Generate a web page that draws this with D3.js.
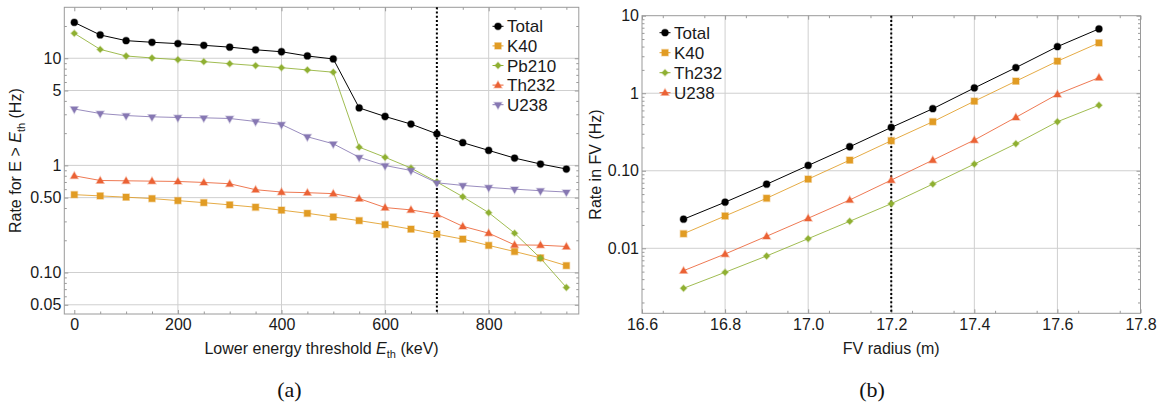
<!DOCTYPE html>
<html><head><meta charset="utf-8">
<script src="https://cdn.jsdelivr.net/npm/d3@7"></script>
<style>
body{margin:0;background:#fff;}
svg{display:block;}
text{font-family:"Liberation Sans",Arial,sans-serif;}
</style></head>
<body>
<svg id="chart" width="1164" height="407"></svg>
<script>
// ---------- Data: panel (a) ----------
const energyThresholds = [0,50,100,150,200,250,300,350,400,450,500,550,600,650,700,750,800,850,900,950];
const totalE = [21.6,16.5,14.6,14.1,13.7,13.2,12.7,12.0,11.5,10.5,9.85,3.44,2.86,2.43,1.97,1.63,1.38,1.17,1.03,0.925];
const k40E   = [0.533,0.519,0.505,0.490,0.469,0.449,0.428,0.407,0.382,0.357,0.330,0.305,0.280,0.254,0.228,0.205,0.179,0.157,0.137,0.116];
const pb210E = [17.1,12.1,10.5,10.06,9.7,9.3,8.9,8.54,8.17,7.78,7.41,1.48,1.19,0.944,0.70,0.51,0.362,0.233,0.136,0.0725];
const th232E = [0.80,0.723,0.718,0.713,0.708,0.693,0.674,0.593,0.564,0.556,0.545,0.490,0.404,0.384,0.350,0.270,0.233,0.181,0.180,0.175];
const u238E  = [3.36,3.05,2.92,2.84,2.80,2.78,2.74,2.57,2.41,1.85,1.59,1.19,0.997,0.896,0.688,0.650,0.623,0.600,0.580,0.564];
const xTicksA = [0,200,400,600,800];
const yTicksA = [0.05,0.1,0.5,1,5,10];
const yTickLabelsA = ["0.05","0.10","0.50","1","5","10"];
const cutA = 700;

// ---------- Data: panel (b) ----------
const fvRadius = [16.7,16.8,16.9,17.0,17.1,17.2,17.3,17.4,17.5,17.6,17.7];
const totalR = [0.0237,0.0393,0.067,0.117,0.204,0.362,0.631,1.17,2.14,3.99,6.76];
const k40R   = [0.0154,0.0261,0.0442,0.078,0.137,0.244,0.429,0.789,1.43,2.59,4.46];
const th232R = [0.00305,0.0049,0.00796,0.0133,0.0223,0.0376,0.0673,0.122,0.223,0.429,0.70];
const u238R  = [0.00514,0.00844,0.0143,0.0244,0.042,0.0758,0.137,0.249,0.489,0.97,1.59];
const xTicksB = [16.6,16.8,17.0,17.2,17.4,17.6,17.8];
const xTickLabelsB = ["16.6","16.8","17.0","17.2","17.4","17.6","17.8"];
const yTicksB = [0.01,0.1,1,10];
const yTickLabelsB = ["0.01","0.10","1","10"];
const cutB = 17.2;

// ---------- Styles ----------
const C = {black:"#000000", orange:"#E19C24", green:"#8FB032", red:"#EB6235", purple:"#8778B3"};
const svg = d3.select("#chart");
const FRAME = "#9a9a9a", GRID = "#cfcfcf";

function minorLog(lo, hi){
  const out=[];
  for(let e=Math.floor(Math.log10(lo))-1;e<=Math.ceil(Math.log10(hi));e++){
    for(let m=1;m<=9;m++){const v=m*Math.pow(10,e); if(v>=lo&&v<=hi) out.push(v);}
  }
  return out;
}
function symbolFor(kind){
  if(kind==="circle") return d3.symbol(d3.symbolCircle, 36)();
  if(kind==="square") return d3.symbol(d3.symbolSquare, 40)();
  if(kind==="diamond") return d3.symbol(d3.symbolSquare, 20)();
  if(kind==="up") return d3.symbol(d3.symbolTriangle, 24)();
  if(kind==="down") return d3.symbol(d3.symbolTriangle, 24)();
}
function symTransform(kind,x,y){
  let t=`translate(${x},${y})`;
  if(kind==="diamond") t+=" rotate(45)";
  if(kind==="down") t+=" rotate(180)";
  if(kind==="up") t+=" translate(0,0.5)";
  return t;
}

function panel(cfg){
  const g = svg.append("g");
  const x = d3.scaleLinear().domain(cfg.xDomain).range([cfg.left,cfg.right]);
  const y = d3.scaleLog().domain(cfg.yDomain).range([cfg.bottom,cfg.top]);

  // grid
  g.append("g").selectAll("line").data(cfg.xGrid).join("line")
    .attr("x1",d=>x(d)).attr("x2",d=>x(d)).attr("y1",cfg.top).attr("y2",cfg.bottom)
    .attr("stroke",GRID).attr("stroke-width",1);
  g.append("g").selectAll("line").data(cfg.yGrid).join("line")
    .attr("y1",d=>y(d)).attr("y2",d=>y(d)).attr("x1",cfg.left).attr("x2",cfg.right)
    .attr("stroke",GRID).attr("stroke-width",1);

  // axes (ticks inside frame)
  const styleAxis = sel => {
    sel.select(".domain").remove();
    sel.selectAll(".tick line").attr("stroke",FRAME);
    sel.selectAll(".tick text").attr("fill","#1a1a1a").style("font-size","16px")
       .style("font-family","'Liberation Sans',Arial,sans-serif");
  };
  g.append("g").attr("transform",`translate(0,${cfg.bottom})`)
    .call(d3.axisBottom(x).tickValues(cfg.xTicks).tickFormat((d,i)=>cfg.xLabels[i]).tickSize(-4).tickPadding(5)).call(styleAxis);
  g.append("g").attr("transform",`translate(0,${cfg.bottom})`)
    .call(d3.axisBottom(x).tickValues(cfg.xMinor).tickFormat("").tickSize(-2.5)).call(styleAxis);
  g.append("g").attr("transform",`translate(0,${cfg.top})`)
    .call(d3.axisTop(x).tickValues(cfg.xTicks).tickFormat("").tickSize(-4)).call(styleAxis);
  g.append("g").attr("transform",`translate(0,${cfg.top})`)
    .call(d3.axisTop(x).tickValues(cfg.xMinor).tickFormat("").tickSize(-2.5)).call(styleAxis);
  g.append("g").attr("transform",`translate(${cfg.left},0)`)
    .call(d3.axisLeft(y).tickValues(cfg.yTicks).tickFormat((d,i)=>cfg.yLabels[i]).tickSize(-4).tickPadding(3)).call(styleAxis);
  const yMinor = minorLog(cfg.yDomain[0],cfg.yDomain[1]).filter(v=>!cfg.yTicks.some(t=>Math.abs(t-v)/v<1e-6));
  g.append("g").attr("transform",`translate(${cfg.left},0)`)
    .call(d3.axisLeft(y).tickValues(yMinor).tickFormat("").tickSize(-2.5)).call(styleAxis);
  g.append("g").attr("transform",`translate(${cfg.right},0)`)
    .call(d3.axisRight(y).tickValues(cfg.yTicks).tickFormat("").tickSize(-4)).call(styleAxis);
  g.append("g").attr("transform",`translate(${cfg.right},0)`)
    .call(d3.axisRight(y).tickValues(yMinor).tickFormat("").tickSize(-2.5)).call(styleAxis);

  // frame
  g.append("rect").attr("x",cfg.left).attr("y",cfg.top).attr("width",cfg.right-cfg.left).attr("height",cfg.bottom-cfg.top)
    .attr("fill","none").attr("stroke",FRAME).attr("stroke-width",1);

  // series
  cfg.series.forEach(s=>{
    const pts = cfg.xs.map((xv,i)=>[xv,s.values[i]]);
    g.append("path").datum(pts)
      .attr("d",d3.line().x(d=>x(d[0])).y(d=>y(d[1])))
      .attr("fill","none").attr("stroke",s.color).attr("stroke-width",1).attr("stroke-opacity",s.color===C.black?1:0.85);
  });
  // cut line
  g.append("line").attr("x1",x(cfg.cut)).attr("x2",x(cfg.cut)).attr("y1",cfg.top).attr("y2",cfg.bottom)
    .attr("stroke","#000").attr("stroke-width",2).attr("stroke-dasharray","2,2.2");
  cfg.series.forEach(s=>{
    const pts = cfg.xs.map((xv,i)=>[xv,s.values[i]]);
    g.append("g").selectAll("path").data(pts).join("path")
      .attr("d",symbolFor(s.kind)).attr("transform",d=>symTransform(s.kind,x(d[0]),y(d[1])))
      .attr("fill",s.color).attr("stroke",s.color).attr("stroke-opacity",0.35).attr("stroke-width",1.5);
  });

  // legend
  const lg = g.append("g");
  cfg.series.forEach((s,i)=>{
    const ly = cfg.legY + i*cfg.legDy;
    lg.append("line").attr("x1",cfg.legX-5.5).attr("x2",cfg.legX+5.5).attr("y1",ly).attr("y2",ly)
      .attr("stroke",s.color).attr("stroke-width",1);
    lg.append("path").attr("d",symbolFor(s.kind)).attr("transform",symTransform(s.kind,cfg.legX,ly))
      .attr("fill",s.color).attr("stroke",s.color).attr("stroke-opacity",0.35).attr("stroke-width",1.5);
    lg.append("text").attr("x",cfg.legX+9).attr("y",ly).attr("dy","0.36em")
      .style("font-size","17px").attr("fill","#1a1a1a").text(s.name);
  });

  // x label
  const xl = g.append("text").attr("x",(cfg.left+cfg.right)/2).attr("y",354)
    .attr("text-anchor","middle").style("font-size","16px").attr("fill","#1a1a1a");
  cfg.xLabel(xl);
  // y label
  const yl = g.append("text").attr("transform",`translate(${cfg.yLabelX},${(cfg.top+cfg.bottom)/2}) rotate(-90)`)
    .attr("text-anchor","middle").style("font-size","16px").attr("fill","#1a1a1a");
  cfg.yLabel(yl);
  // caption
  g.append("text").attr("x",cfg.capX).attr("y",397).attr("text-anchor","middle")
    .style("font-family","'Liberation Serif','DejaVu Serif',serif").style("font-size","22px").attr("fill","#111").text(cfg.caption);
}

function minorLinear(a,b,step){const o=[];for(let v=a;v<=b+1e-9;v+=step)o.push(+v.toFixed(4));return o;}

panel({
  left:64.3,right:578.8,top:7.3,bottom:314,
  xDomain:[-19.3,974], yDomain:[0.041,29.9],
  xs:energyThresholds,
  xTicks:xTicksA, xLabels:xTicksA.map(String), xMinor:minorLinear(0,950,50).filter(v=>v%200!==0),
  yTicks:yTicksA, yLabels:yTickLabelsA,
  xGrid:[200,400,600,800], yGrid:yTicksA,
  cut:cutA,
  series:[
    {name:"Total",values:totalE,color:C.black,kind:"circle"},
    {name:"K40",values:k40E,color:C.orange,kind:"square"},
    {name:"Pb210",values:pb210E,color:C.green,kind:"diamond"},
    {name:"Th232",values:th232E,color:C.red,kind:"up"},
    {name:"U238",values:u238E,color:C.purple,kind:"down"}
  ],
  legX:498, legY:26.3, legDy:19.6,
  xLabel:t=>{t.append("tspan").text("Lower energy threshold ");
    t.append("tspan").style("font-style","italic").text("E");
    t.append("tspan").style("font-size","11px").attr("dy",4).text("th");
    t.append("tspan").attr("dy",-4).text(" (keV)");},
  yLabelX:20.5,
  yLabel:t=>{t.append("tspan").text("Rate for E > ");
    t.append("tspan").style("font-style","italic").text("E");
    t.append("tspan").style("font-size","11px").attr("dy",4).text("th");
    t.append("tspan").attr("dy",-4).text(" (Hz)");},
  capX:289.5, caption:"(a)"
});

panel({
  left:642,right:1140.5,top:15.7,bottom:313.3,
  xDomain:[16.6,17.8], yDomain:[0.00145,10],
  xs:fvRadius,
  xTicks:xTicksB, xLabels:xTickLabelsB, xMinor:minorLinear(16.65,17.75,0.1),
  yTicks:yTicksB, yLabels:yTickLabelsB,
  xGrid:[16.8,17.0,17.2,17.4,17.6], yGrid:[0.01,0.1,1],
  cut:cutB,
  series:[
    {name:"Total",values:totalR,color:C.black,kind:"circle"},
    {name:"K40",values:k40R,color:C.orange,kind:"square"},
    {name:"Th232",values:th232R,color:C.green,kind:"diamond"},
    {name:"U238",values:u238R,color:C.red,kind:"up"}
  ],
  legX:665, legY:32.7, legDy:20,
  xLabel:t=>{t.text("FV radius (m)");},
  yLabelX:601,
  yLabel:t=>{t.text("Rate in FV (Hz)");},
  capX:872, caption:"(b)"
});
</script>
</body></html>
